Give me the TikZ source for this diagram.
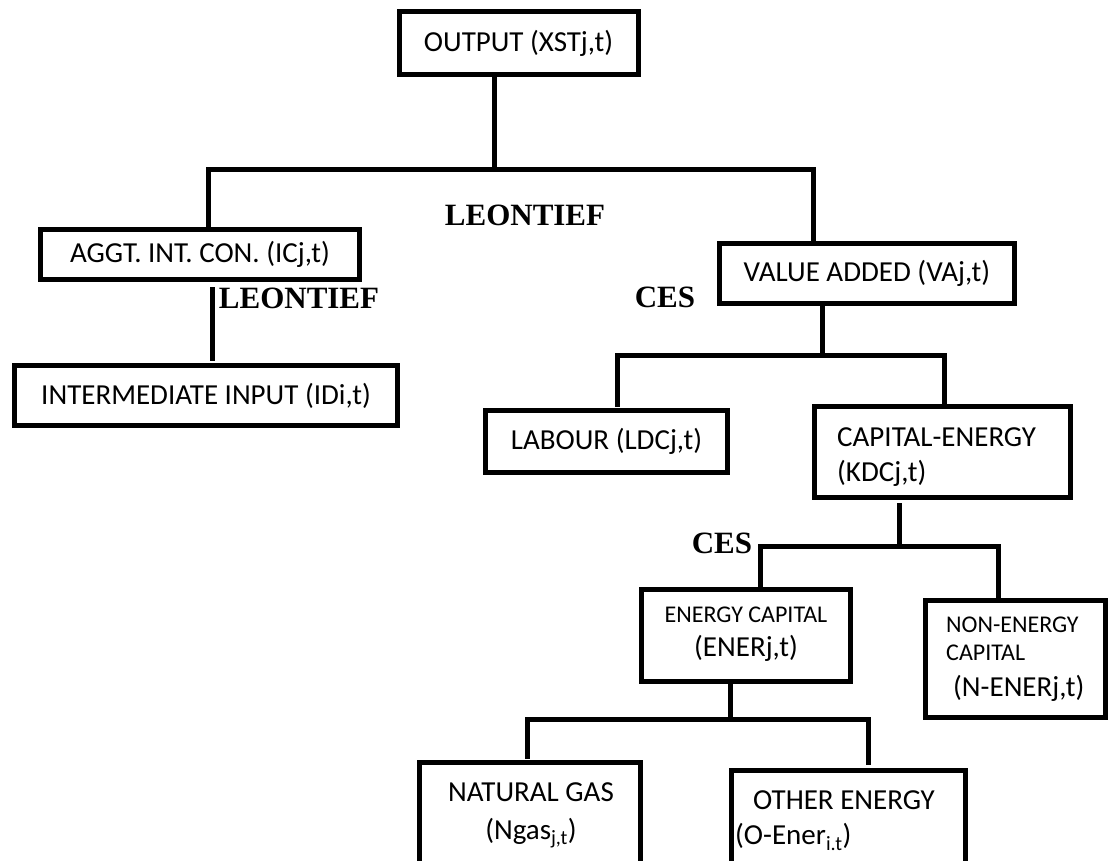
\documentclass[tikz,border=0pt]{standalone}
\usepackage{fontspec}
\setmainfont{Carlito}
\newfontfamily\serifb{Liberation Serif}
\newcommand\fs[1]{\fontsize{#1}{#1}\selectfont}
\begin{document}
\begin{tikzpicture}[x=1pt,y=-1pt,
  box/.style={draw, line width=5pt, rectangle, inner sep=0pt, font=\fs{29}},
  conn/.style={line width=5pt, line cap=rect},
  txt/.style={inner sep=0pt, font=\fs{29}},
  smalltxt/.style={inner sep=0pt, font=\fs{24}},
  rulelab/.style={inner sep=0pt, font=\serifb\bfseries\fs{31}}]
\useasboundingbox (0,0) rectangle (1112,861);
\clip (0,0) rectangle (1112,861);
\fill[white] (0,0) rectangle (1112,861);

% boxes
\node[box, minimum width=239pt, minimum height=63pt] (out) at (518.5,43.5) {OUTPUT (XSTj,t)};
\node[box, minimum width=319pt, minimum height=50pt] (agg) at (200,254.5) {AGGT. INT. CON. (ICj,t)};
\node[box, minimum width=383pt, minimum height=60pt] (int) at (206,395.5) {INTERMEDIATE INPUT (IDi,t)};
\node[box, minimum width=295pt, minimum height=60pt] (va) at (867,273.5) {VALUE ADDED (VAj,t)};
\node[box, minimum width=242pt, minimum height=62pt] (lab) at (606.5,441.5) {LABOUR (LDCj,t)};
\node[box, minimum width=256pt, minimum height=91pt] (kdc) at (942.5,452) {};
\node[box, minimum width=209pt, minimum height=92pt] (ener) at (746,635.5) {};
\node[box, minimum width=180pt, minimum height=117pt] (nen) at (1015.5,659) {};
\node[box, minimum width=221pt, minimum height=117pt] (gas) at (530,821) {};
\node[box, minimum width=234pt, minimum height=115pt] (oth) at (848.5,828) {};

% texts in multi-line boxes
\node[txt, anchor=west] (kdc1) at (837,437) {CAPITAL-ENERGY};
\node[txt, anchor=west] (kdc2) at (837,473) {(KDCj,t)};
\node[smalltxt] (ener1) at (746,615) {ENERGY CAPITAL};
\node[txt] (ener2) at (746,648) {(ENERj,t)};
\node[smalltxt, anchor=west] (nen1) at (946,625) {NON-ENERGY};
\node[smalltxt, anchor=west] (nen2) at (946,653) {CAPITAL};
\node[txt, anchor=west] (nen3) at (953,688) {(N-ENERj,t)};
\node[txt] (gas1) at (531,792) {NATURAL GAS};
\node[txt] (gas2) at (531,833) {(Ngas\textsubscript{j,t})};
\node[txt, anchor=west] (oth1) at (753,800) {OTHER ENERGY};
\node[txt, anchor=west] (oth2) at (735,837) {(O-Ener\textsubscript{i.t})};

% rule labels
\node[rulelab] (leo1) at (525,215) {LEONTIEF};
\node[rulelab] (leo2) at (299,298) {LEONTIEF};
\node[rulelab] (ces1) at (665,297) {CES};
\node[rulelab] (ces2) at (722,543) {CES};

% tree 1: output
\coordinate (j1) at (494,170);
\coordinate (b1l) at (208,170);
\coordinate (b1r) at (813,170);
\draw[conn] (out.south -| j1) -- (j1);
\draw[conn] (b1l) -- (b1r);
\draw[conn] (b1l) -- (agg.north -| b1l);
\draw[conn] (b1r) -- (va.north -| b1r);

% tree 2: aggt -> intermediate
\coordinate (c2) at (212,0);
\draw[conn] ([yshift=-8pt]agg.south -| c2) -- ([yshift=5pt]int.north -| c2);

% tree 3: value added
\coordinate (j3) at (822,355);
\coordinate (b3l) at (617,355);
\coordinate (b3r) at (944,355);
\draw[conn] (va.south -| j3) -- (j3);
\draw[conn] (b3l) -- (b3r);
\draw[conn] (b3l) -- ([yshift=4pt]lab.north -| b3l);
\draw[conn] (b3r) -- (kdc.north -| b3r);

% tree 4: capital-energy
\coordinate (j4) at (899,546);
\coordinate (b4l) at (760,546);
\coordinate (b4r) at (998,546);
\draw[conn] ([yshift=-5pt]kdc.south -| j4) -- (j4);
\draw[conn] (b4l) -- (b4r);
\draw[conn] (b4l) -- (ener.north -| b4l);
\draw[conn] ([yshift=-4pt]b4r) -- (nen.north -| b4r);

% tree 5: energy capital
\coordinate (j5) at (730,719);
\coordinate (b5l) at (527,719);
\coordinate (b5r) at (868,719);
\draw[conn] (ener.south -| j5) -- (j5);
\draw[conn] (b5l) -- (b5r);
\draw[conn] (b5l) -- ([yshift=4pt]gas.north -| b5l);
\draw[conn] (b5r) -- ([yshift=6pt]oth.north -| b5r);
\end{tikzpicture}
\end{document}
